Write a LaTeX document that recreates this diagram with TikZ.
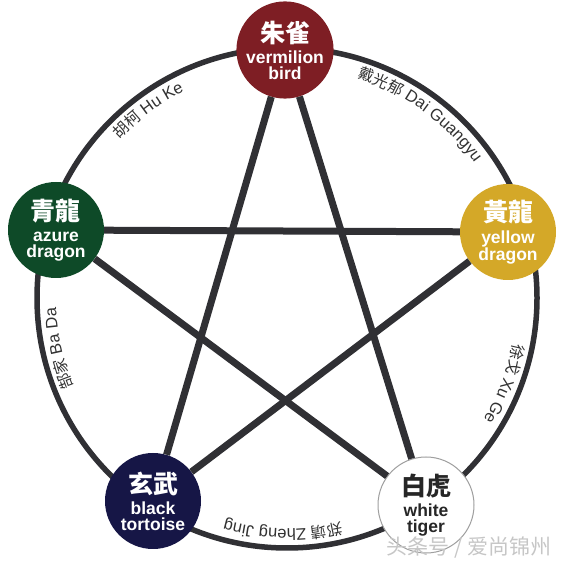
\documentclass[tikz,border=0pt]{standalone}
\usepackage{fontspec}
\setmainfont{Liberation Sans}
\newfontfamily\cjk{Noto Sans CJK TC}
\usetikzlibrary{decorations.text}

\definecolor{birdred}{RGB}{126,30,36}
\definecolor{azuregreen}{RGB}{14,74,40}
\definecolor{goldyellow}{RGB}{212,168,40}
\definecolor{tortoiseblue}{RGB}{22,22,70}
\definecolor{starline}{RGB}{48,48,52}
\definecolor{labelgray}{RGB}{50,50,50}

\newcommand\lblcjk{\cjk\fontsize{15.5}{15.5}\selectfont}
\newcommand\lbllat{\rmfamily\fontsize{16.5}{16.5}\selectfont}
\newcommand\beastcjk{\cjk\bfseries\fontsize{25}{25}\selectfont}

\tikzset{
  beast/.style={circle, minimum size=96pt, inner sep=0pt, align=center, text=white,
    font=\bfseries\fontsize{17.5}{15.5}\selectfont},
  spoke/.style={draw=starline, line width=7pt},
  rim/.style={draw=starline, line width=5.5pt},
  artist/.style={decorate, decoration={text along path, text align=center,
    text color=labelgray, text={#1}}}
}

\begin{document}
\begin{tikzpicture}[x=1pt, y=1pt]
\useasboundingbox (0,0) rectangle (567,567);
\coordinate (o) at (287,269);
\draw[rim] (o) circle[radius=250];

\path[artist={|\lblcjk|胡柯|\lbllat| Hu Ke}] (o) ++(146.5:231) arc[start angle=146.5, end angle=106.5, radius=231];
\path[artist={|\lblcjk|戴光郁|\lbllat| Dai Guangyu}] (o) ++(79:231) arc[start angle=79, end angle=29, radius=231];
\path[artist={|\lblcjk|徐戈|\lbllat| Xu Ge}] (o) ++(-1.5:231) arc[start angle=-1.5, end angle=-41.5, radius=231];
\path[artist={|\lblcjk|郑靖|\lbllat| Zheng Jing}] (o) ++(-71:231) arc[start angle=-71, end angle=-111, radius=231];
\path[artist={|\lblcjk|郜家|\lbllat| Ba Da}] (o) ++(212.5:231) arc[start angle=212.5, end angle=172.5, radius=231];

\node[beast, fill=birdred] (bird) at (285,517) {{\beastcjk 朱雀}\\[6pt]vermilion\\bird};
\node[beast, fill=azuregreen] (dragon) at (56,337) {{\beastcjk 青龍}\\[6pt]azure\\dragon};
\node[beast, fill=goldyellow] (yellow) at (508,335) {{\beastcjk 黃龍}\\[6pt]yellow\\dragon};
\node[beast, fill=tortoiseblue] (tortoise) at (153,66) {{\beastcjk 玄武}\\[6pt]black\\tortoise};
\node[beast, fill=white, draw=gray!75, line width=1pt, text=black!85] (tiger) at (426,62) {{\beastcjk 白虎}\\[6pt]white\\tiger};

\draw[spoke] (bird) -- (tortoise);
\draw[spoke] (bird) -- (tiger);
\draw[spoke] (dragon) -- (yellow);
\draw[spoke] (dragon) -- (tiger);
\draw[spoke] (yellow) -- (tortoise);

\node[text=gray!45, font=\cjk\fontsize{21}{21}\selectfont] (mark) at (469,19) {头条号 / 爱尚锦州};
\end{tikzpicture}
\end{document}
